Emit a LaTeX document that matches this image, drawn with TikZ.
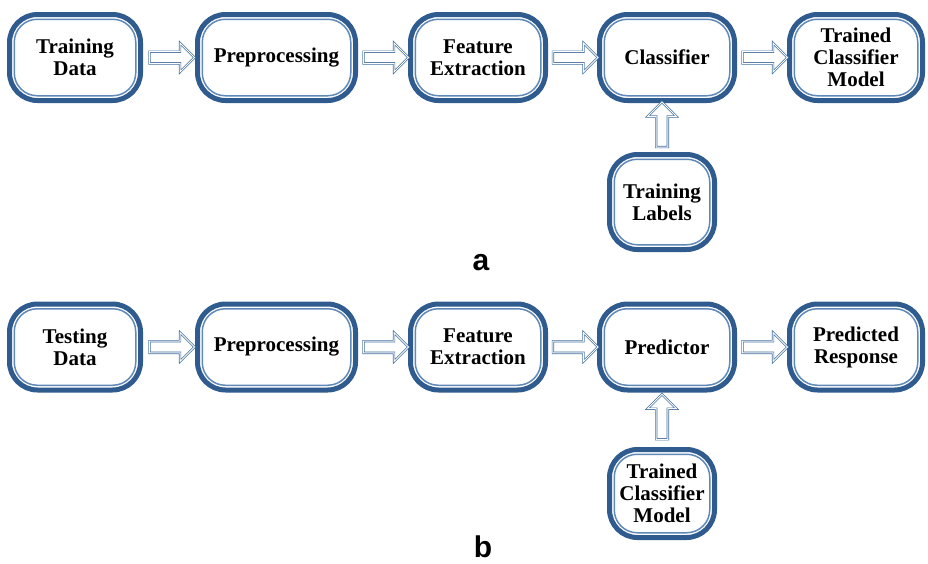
\documentclass[tikz,border=0pt]{standalone}
\usepackage{fontspec}
\setmainfont{Liberation Serif}
\newfontfamily\panelfont{Liberation Sans}
\usetikzlibrary{shapes,arrows,positioning,calc}
\definecolor{boxblue}{HTML}{2F5B8E}
\definecolor{lineblue}{HTML}{6088B8}
\definecolor{arrowblue}{HTML}{44709F}

\begin{document}
\begin{tikzpicture}[x=1pt, y=-1pt,
    stage/.style={rectangle, rounded corners=28pt, draw=boxblue, line width=5pt, fill=white, minimum height=86pt, inner sep=0pt, align=center, font=\bfseries\fontsize{21}{22}\selectfont},
    innerline/.style={draw=lineblue, line width=1.5pt, rounded corners=23pt},
    flow/.style={single arrow, draw=arrowblue, fill=white, line width=0.7pt, double=white, double distance=0.9pt, minimum height=45pt, text height=0pt, text depth=0pt, text width=0pt, inner sep=5.5pt, single arrow head extend=8.5pt},
    panel/.style={font=\panelfont\bfseries\fontsize{30}{30}\selectfont, anchor=base, inner sep=0pt}
]
    \useasboundingbox (0,0) rectangle (928,563);

    % Training pipeline
    \foreach \i/\x/\w/\t in {1/75/131/{Training\\Data}, 2/276.5/158/Preprocessing, 3/478/135/{Feature\\Extraction}, 4/667/135/Classifier, 5/856/133/{Trained\\Classifier\\Model}} {
        \node[stage, minimum width=\w pt] (a\i) at (\x, 57.5) {\t};
    }
    \node[stage, minimum width=105pt, minimum height=95pt] (la) at (662, 202) {Training\\Labels};

    % Testing pipeline
    \foreach \i/\x/\w/\t in {1/75/131/{Testing\\Data}, 2/276.5/158/Preprocessing, 3/478/135/{Feature\\Extraction}, 4/667/135/Predictor, 5/856/133/{Predicted\\Response}} {
        \node[stage, minimum width=\w pt] (b\i) at (\x, 347) {\t};
    }
    \node[stage, minimum width=105pt, minimum height=88pt] (mb) at (662, 493.5) {Trained\\Classifier\\Model};

    % Inner borders
    \foreach \n in {a1,a2,a3,a4,a5,la,b1,b2,b3,b4,b5,mb} {
        \draw[innerline] ([shift={(7.25pt,7.25pt)}]\n.south west) rectangle ([shift={(-7.25pt,-7.25pt)}]\n.north east);
    }

    % Arrows
    \foreach \i [count=\j from 2] in {1,...,4} {
        \path (a\i) -- node[flow] {} (a\j);
        \path (b\i) -- node[flow] {} (b\j);
    }
    \path (la.north) -- node[flow, shape border rotate=90] {} (la.north |- a4.south);
    \path (mb.north) -- node[flow, shape border rotate=90] {} (mb.north |- b4.south);

    % Panel labels
    \node[panel] (pa) at (481, 270) {a};
    \node[panel] (pb) at (483, 557) {b};
\end{tikzpicture}
\end{document}
